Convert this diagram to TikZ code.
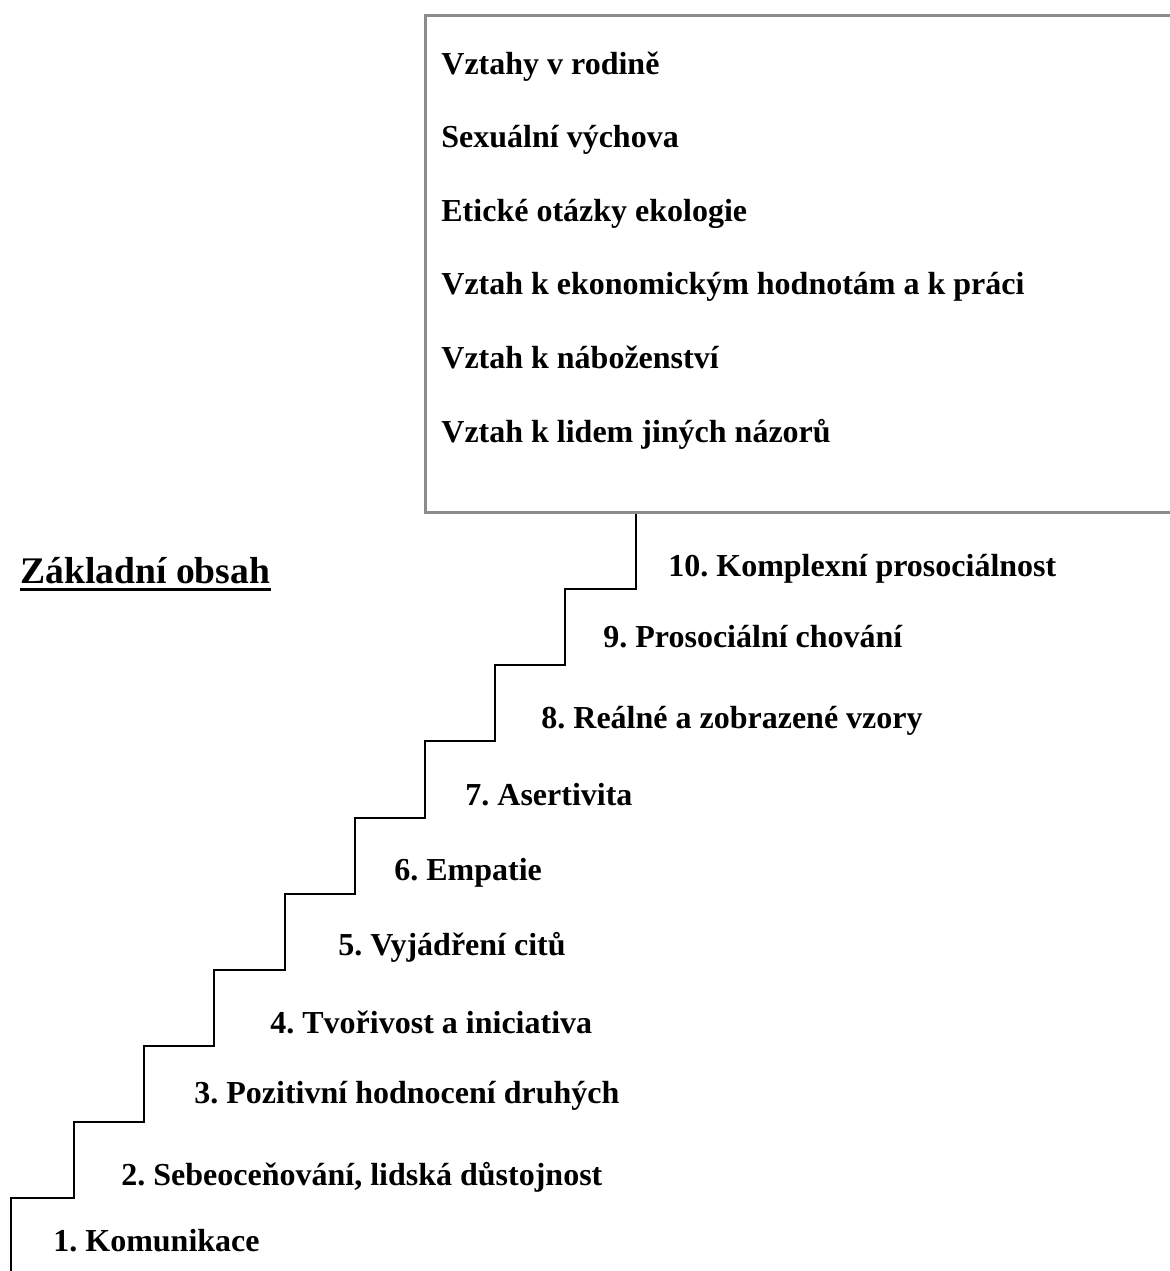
\documentclass[tikz,border=0pt]{standalone}
\usepackage{fontspec}
\setmainfont{Liberation Serif}
\usetikzlibrary{positioning,calc}
\frenchspacing

\begin{document}
\begin{tikzpicture}[x=0.5pt,y=-0.5pt,
    ramec/.style={draw=black!45,line width=1.3pt,inner sep=0pt,anchor=north west,
                  minimum width=385pt,minimum height=248.5pt},
    polozka/.style={anchor=base west,inner sep=0pt,font=\fontsize{16}{19}\bfseries},
    stupen/.style={anchor=base west,inner sep=0pt,font=\fontsize{16}{19}\bfseries},
    nadpis/.style={anchor=base west,inner sep=0pt,font=\fontsize{18.8}{22}\bfseries},
    schody/.style={line width=1pt,black}]
  \clip (0,0) rectangle (1170,1271);
  % ramecek s tematy
  \node[ramec] (ramec) at (424,14) {};
  \foreach \txt [count=\i] in {Vztahy v rodině, Sexuální výchova, Etické otázky ekologie,
      Vztah k ekonomickým hodnotám a k práci, Vztah k náboženství, Vztah k lidem jiných názorů}
    \node[polozka] (p\i) at (441,{74+73.6*(\i-1)}) {\txt};

  % nadpis
  \node[nadpis] (zaklad) at (20,583) {Základní obsah};
  \draw[line width=1.5pt] ([yshift=-3pt]zaklad.base west) -- ([yshift=-3pt]zaklad.base east);

  % schody
  \coordinate (pata) at (11,1271);
  \foreach \i in {1,...,9}
    \coordinate (t\i) at ({74+70.2*(\i-1)},{1198-76.1*(\i-1)});
  \draw[schody] (pata) |- (t1) |- (t2) |- (t3) |- (t4) |- (t5) |- (t6) |- (t7) |- (t8) |- (t9)
    -- (t9 |- ramec.south);

  % popisky stupnu
  \foreach \x/\y/\txt [count=\i] in {53/1251/{1. Komunikace},
      121/1185/{2. Sebeoceňování, lidská důstojnost},
      194/1103/{3. Pozitivní hodnocení druhých},
      270/1033/{4. Tvořivost a iniciativa},
      338/955/{5. Vyjádření citů},
      394/880/{6. Empatie},
      465/805/{7. Asertivita},
      541/728/{8. Reálné a zobrazené vzory},
      603/647/{9. Prosociální chování},
      668/576/{10. Komplexní prosociálnost}}
    \node[stupen] (s\i) at (\x,\y) {\txt};
\end{tikzpicture}
\end{document}
